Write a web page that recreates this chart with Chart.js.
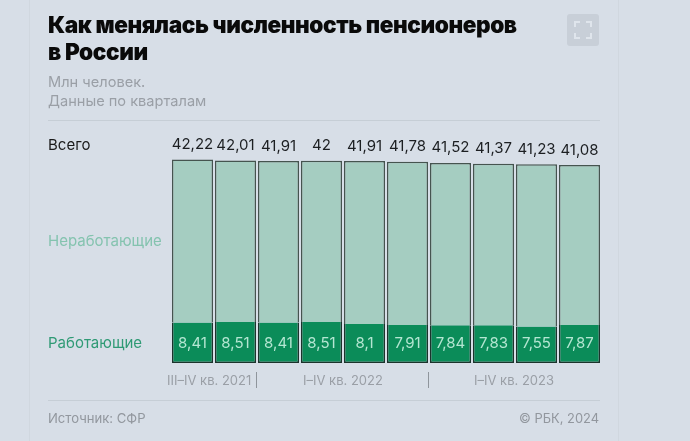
<!DOCTYPE html>
<html lang="ru"><head><meta charset="utf-8">
<style>
html,body{margin:0;padding:0;width:690px;height:441px;overflow:hidden;background:#d7dee7}
#wrap{position:relative;width:690px;height:441px;font-family:Inter,"Noto Sans",sans-serif}
#wrap canvas{position:absolute;left:0;top:0}
.t{position:absolute;white-space:nowrap}
.l{position:absolute;background:#c6ced6}
</style></head><body>
<div id="wrap">
<canvas id="c" width="690" height="441"></canvas>
<div class="l" style="left:29px;top:0;width:1px;height:441px;background:#d0d7df"></div>
<div class="l" style="left:618px;top:0;width:1px;height:441px;background:#d0d7df"></div>
<div class="t" id="title" style="left:48px;top:11px;font-size:22.6px;line-height:27px;font-weight:900;color:#0a0a0a;letter-spacing:-.41px">Как менялась численность пенсионеров<br>в России</div>
<div class="t" style="left:48px;top:73px;font-size:14.6px;line-height:19px;color:#9a9fa6">Млн человек.<br>Данные по кварталам</div>
<div class="l" style="left:48px;top:120px;width:552px;height:1px"></div>
<div class="t" style="left:48px;top:136px;font-size:15px;line-height:18px;color:#1a1a1a">Всего</div>
<div class="t" style="left:48px;top:232px;font-size:15px;line-height:18px;color:#84c3af">Неработающие</div>
<div class="t" style="left:48px;top:334px;font-size:15px;line-height:18px;color:#2f9a75">Работающие</div>
<div class="t" style="left:167px;top:372px;font-size:13px;line-height:16px;color:#9a9fa6">III–IV кв. 2021</div>
<div class="t" style="left:303px;top:372px;font-size:13px;line-height:16px;color:#9a9fa6">I–IV кв. 2022</div>
<div class="t" style="left:474px;top:372px;font-size:13px;line-height:16px;color:#9a9fa6">I–IV кв. 2023</div>
<div class="l" style="left:256px;top:372px;width:1px;height:16px;background:#8f959c"></div>
<div class="l" style="left:428px;top:372px;width:1px;height:16px;background:#8f959c"></div>
<div class="l" style="left:48px;top:400px;width:552px;height:1px"></div>
<div class="t" style="left:48px;top:410px;font-size:13.1px;line-height:17px;color:#92979e">Источник: СФР</div>
<div class="t" style="right:91px;top:410px;font-size:12.9px;line-height:17px;color:#92979e">© РБК, 2024</div>
<svg style="position:absolute;left:567px;top:14px" width="32" height="32" viewBox="0 0 32 32">
<rect width="32" height="32" rx="3" fill="#c8cfd8"/>
<path d="M8 13V8h5M19 8h5v5M24 19v5h-5M13 24H8v-5" fill="none" stroke="#dfe5ec" stroke-width="2"/>
</svg>
</div>
<script src="https://cdn.jsdelivr.net/npm/chart.js@4/dist/chart.umd.min.js"></script>
<script>
const categories = ["III кв. 2021","IV кв. 2021","I кв. 2022","II кв. 2022","III кв. 2022","IV кв. 2022","I кв. 2023","II кв. 2023","III кв. 2023","IV кв. 2023"];
const totalValues = [42.22,42.01,41.91,42,41.91,41.78,41.52,41.37,41.23,41.08];
const workingValues = [8.41,8.51,8.41,8.51,8.1,7.91,7.84,7.83,7.55,7.87];
const nonWorkingValues = [33.81,33.5,33.5,33.49,33.81,33.87,33.68,33.54,33.68,33.21];
const fmt = v => String(v).replace('.', ',');
const labelPlugin = {
  id: 'valueLabels',
  afterDatasetsDraw(chart) {
    const ctx = chart.ctx, y = chart.scales.y, x = chart.scales.x;
    ctx.save();
    ctx.textAlign = 'center'; ctx.textBaseline = 'middle';
    ctx.font = '15px Inter, "Noto Sans", sans-serif';
    categories.forEach((c, i) => {
      const cx = x.getPixelForValue(i);
      ctx.fillStyle = '#b4e6d2';
      ctx.fillText(fmt(workingValues[i]), cx, y.getPixelForValue(0) - 20);
      ctx.fillStyle = '#1c1f22';
      ctx.fillText(fmt(totalValues[i]), cx, y.getPixelForValue(totalValues[i]) - 15);
    });
    ctx.restore();
  }
};
new Chart(document.getElementById('c'), {
  type: 'bar',
  data: { labels: categories, datasets: [
    { label: 'Работающие', data: workingValues, backgroundColor: '#0b8c59', borderColor: '#1b332c',
      borderWidth: {top:0,left:1.5,right:1.5,bottom:1.5}, borderSkipped: false },
    { label: 'Неработающие', data: nonWorkingValues, backgroundColor: '#a5cdc1', borderColor: '#45544f',
      borderWidth: {top:1.5,left:1.5,right:1.5,bottom:0}, borderSkipped: false }
  ]},
  options: {
    responsive: false, animation: false, devicePixelRatio: 1,
    layout: { padding: { left: 171, right: 89, top: 151, bottom: 78 } },
    plugins: { legend: {display:false}, tooltip: {enabled:false}, title: {display:false} },
    datasets: { bar: { categoryPercentage: 1, barPercentage: 0.955 } },
    scales: {
      x: { display:false, stacked:true },
      y: { display:false, stacked:true, min:0, max:44 }
    }
  },
  plugins: [labelPlugin]
});
</script>
</body></html>
